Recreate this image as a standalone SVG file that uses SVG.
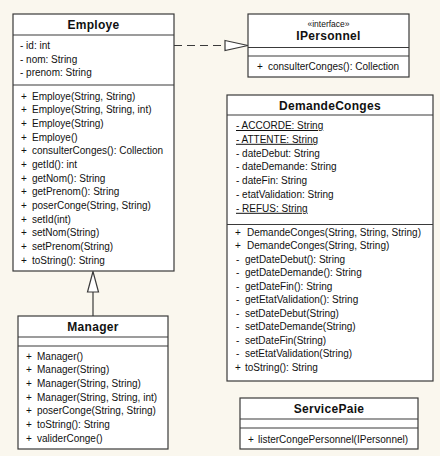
<svg xmlns="http://www.w3.org/2000/svg" width="440" height="469" viewBox="0 0 440 469">
<style>
.box{fill:#ffffff;stroke:#3a3a3a;stroke-width:1.2}
.sep{stroke:#3a3a3a;stroke-width:1.2}
.t{font-family:"Liberation Sans",Arial,sans-serif;font-size:10px;fill:#111}
.title{font-family:"Liberation Sans",Arial,sans-serif;font-size:12px;font-weight:bold;fill:#111;text-anchor:middle;letter-spacing:0.3px}
.st{font-family:"Liberation Sans",Arial,sans-serif;font-size:8.5px;fill:#111;text-anchor:middle}
.u{text-decoration:underline}
.conn{stroke:#3a3a3a;stroke-width:1.2;fill:none}
.head{stroke:#3a3a3a;stroke-width:1.2;fill:#ffffff}
</style>
<rect x="0" y="0" width="440" height="469" fill="#ffffff"/>
<rect x="0" y="0" width="440" height="456" fill="#faf7ee"/>

<g id="connectors">
  <line class="conn" x1="174" y1="45.5" x2="225" y2="45.5" stroke-dasharray="8,5"/>
  <polygon class="head" points="225,40.5 248,45.5 225,50.5"/>
  <line class="conn" x1="93" y1="292" x2="93" y2="316"/>
  <polygon class="head" points="93,271.5 87.5,292 98.5,292"/>
</g>

<g id="Employe">
  <rect class="box" x="13" y="14" width="161" height="257"/>
  <line class="sep" x1="13" y1="35" x2="174" y2="35"/>
  <line class="sep" x1="13" y1="85" x2="174" y2="85"/>
  <text class="title" x="93.5" y="28.5">Employe</text>
  <text class="t" x="20" y="49">- id: int</text>
  <text class="t" x="20" y="62.7">- nom: String</text>
  <text class="t" x="20" y="76.4">- prenom: String</text>
  <g>
    <text class="t" x="21" y="99.5">+</text><text class="t" x="32" y="99.5">Employe(String, String)</text>
    <text class="t" x="21" y="113.2">+</text><text class="t" x="32" y="113.2">Employe(String, String, int)</text>
    <text class="t" x="21" y="126.8">+</text><text class="t" x="32" y="126.8">Employe(String)</text>
    <text class="t" x="21" y="140.5">+</text><text class="t" x="32" y="140.5">Employe()</text>
    <text class="t" x="21" y="154.2">+</text><text class="t" x="32" y="154.2">consulterConges(): Collection</text>
    <text class="t" x="21" y="167.8">+</text><text class="t" x="32" y="167.8">getId(): int</text>
    <text class="t" x="21" y="181.5">+</text><text class="t" x="32" y="181.5">getNom(): String</text>
    <text class="t" x="21" y="195.2">+</text><text class="t" x="32" y="195.2">getPrenom(): String</text>
    <text class="t" x="21" y="208.9">+</text><text class="t" x="32" y="208.9">poserConge(String, String)</text>
    <text class="t" x="21" y="222.5">+</text><text class="t" x="32" y="222.5">setId(int)</text>
    <text class="t" x="21" y="236.2">+</text><text class="t" x="32" y="236.2">setNom(String)</text>
    <text class="t" x="21" y="249.9">+</text><text class="t" x="32" y="249.9">setPrenom(String)</text>
    <text class="t" x="21" y="263.5">+</text><text class="t" x="32" y="263.5">toString(): String</text>
  </g>
</g>

<g id="IPersonnel">
  <rect class="box" x="248" y="14" width="161" height="63"/>
  <line class="sep" x1="248" y1="47.5" x2="409" y2="47.5"/>
  <line class="sep" x1="248" y1="56" x2="409" y2="56"/>
  <text class="st" x="328.5" y="27">«interface»</text>
  <text class="title" x="328.5" y="40">IPersonnel</text>
  <text class="t" x="257" y="70">+</text><text class="t" x="268" y="70">consulterConges(): Collection</text>
</g>

<g id="DemandeConges">
  <rect class="box" x="227" y="95" width="206" height="286"/>
  <line class="sep" x1="227" y1="115" x2="433" y2="115"/>
  <line class="sep" x1="227" y1="224.5" x2="433" y2="224.5"/>
  <text class="title" x="330" y="109.5">DemandeConges</text>
  <text class="t u" x="236" y="129">- ACCORDE: String</text>
  <text class="t u" x="236" y="142.8">- ATTENTE: String</text>
  <text class="t" x="236" y="156.6">- dateDebut: String</text>
  <text class="t" x="236" y="170.4">- dateDemande: String</text>
  <text class="t" x="236" y="184.2">- dateFin: String</text>
  <text class="t" x="236" y="198">- etatValidation: String</text>
  <text class="t u" x="236" y="211.8">- REFUS: String</text>
  <text class="t" x="235" y="235.5">+</text><text class="t" x="247" y="235.5">DemandeConges(String, String, String)</text>
  <text class="t" x="235" y="249">+</text><text class="t" x="247" y="249">DemandeConges(String, String)</text>
  <text class="t" x="236" y="262.5">-</text><text class="t" x="245" y="262.5">getDateDebut(): String</text>
  <text class="t" x="236" y="276">-</text><text class="t" x="245" y="276">getDateDemande(): String</text>
  <text class="t" x="236" y="289.5">-</text><text class="t" x="245" y="289.5">getDateFin(): String</text>
  <text class="t" x="236" y="303">-</text><text class="t" x="245" y="303">getEtatValidation(): String</text>
  <text class="t" x="236" y="316.5">-</text><text class="t" x="245" y="316.5">setDateDebut(String)</text>
  <text class="t" x="236" y="330">-</text><text class="t" x="245" y="330">setDateDemande(String)</text>
  <text class="t" x="236" y="343.5">-</text><text class="t" x="245" y="343.5">setDateFin(String)</text>
  <text class="t" x="236" y="357">-</text><text class="t" x="245" y="357">setEtatValidation(String)</text>
  <text class="t" x="235" y="370.5">+</text><text class="t" x="245" y="370.5">toString(): String</text>
</g>

<g id="Manager">
  <rect class="box" x="18" y="316" width="150" height="133"/>
  <line class="sep" x1="18" y1="337" x2="168" y2="337"/>
  <line class="sep" x1="18" y1="346" x2="168" y2="346"/>
  <text class="title" x="93" y="330.5">Manager</text>
  <text class="t" x="26" y="359.5">+</text><text class="t" x="37" y="359.5">Manager()</text>
  <text class="t" x="26" y="373.2">+</text><text class="t" x="37" y="373.2">Manager(String)</text>
  <text class="t" x="26" y="386.9">+</text><text class="t" x="37" y="386.9">Manager(String, String)</text>
  <text class="t" x="26" y="400.6">+</text><text class="t" x="37" y="400.6">Manager(String, String, int)</text>
  <text class="t" x="26" y="414.3">+</text><text class="t" x="37" y="414.3">poserConge(String, String)</text>
  <text class="t" x="26" y="428">+</text><text class="t" x="37" y="428">toString(): String</text>
  <text class="t" x="26" y="441.7">+</text><text class="t" x="37" y="441.7">validerConge()</text>
</g>

<g id="ServicePaie">
  <rect class="box" x="240" y="398" width="178" height="51"/>
  <line class="sep" x1="240" y1="419" x2="418" y2="419"/>
  <line class="sep" x1="240" y1="428" x2="418" y2="428"/>
  <text class="title" x="329" y="412.5">ServicePaie</text>
  <text class="t" x="248" y="442.5">+</text><text class="t" x="258" y="442.5">listerCongePersonnel(IPersonnel)</text>
</g>
</svg>
